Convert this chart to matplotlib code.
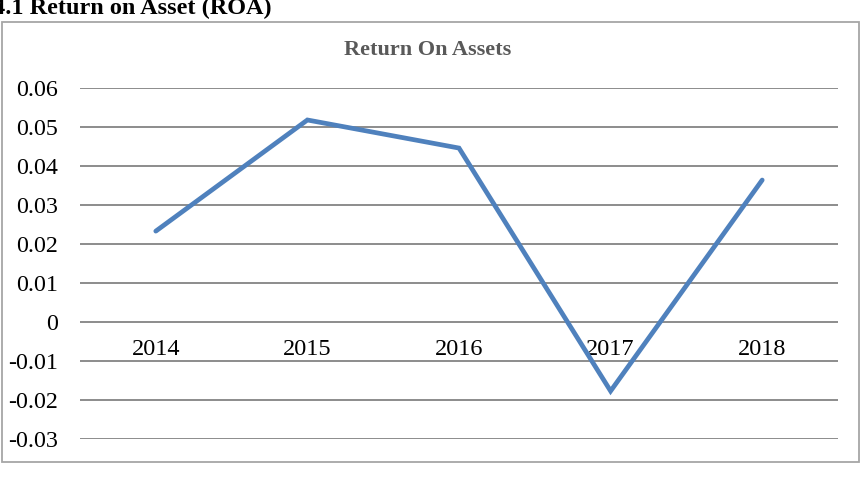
import matplotlib
matplotlib.use("Agg")
import matplotlib.pyplot as plt
from matplotlib.patches import Rectangle

years = ["2014", "2015", "2016", "2017", "2018"]
roa = [0.0233, 0.0518, 0.0446, -0.0177, 0.0364]
yticks = [-0.03, -0.02, -0.01, 0, 0.01, 0.02, 0.03, 0.04, 0.05, 0.06]
ytick_labels = ["-0.03", "-0.02", "-0.01", "0", "0.01", "0.02", "0.03", "0.04", "0.05", "0.06"]

W, H = 866, 488
plt.rcParams['font.family'] = ['Liberation Serif', 'DejaVu Serif']
fig = plt.figure(figsize=(W / 100, H / 100), dpi=100)

def fx(px):
    return px / W

def fy(py):
    return 1 - py / H

# outer chart frame
fig.patches.append(Rectangle((fx(2), fy(462)), fx(857), (462 - 22) / H,
                             transform=fig.transFigure, fill=False,
                             edgecolor="#a6a6a6", linewidth=1.3))

# document heading (partially cut at top)
fig.text(fx(272), fy(14), "4.1 Return on Asset (ROA)", fontsize=17.5,
         fontweight="bold", color="black", ha="right", va="baseline")

# chart title
fig.text(fx(428), fy(50), "Return On Assets", fontsize=16,
         fontweight="bold", color="#595959", ha="center", va="center")

ax = fig.add_axes([fx(80), fy(439), fx(838) - fx(80), (439 - 88) / H])
x = list(range(len(years)))
ax.plot(x, roa, color="#4F81BD", linewidth=3.4, solid_capstyle="round",
        solid_joinstyle="miter", zorder=3)

ax.set_xlim(-0.5, len(years) - 0.5)
ax.set_ylim(-0.03, 0.06)
ax.set_yticks(yticks)
ax.set_yticklabels(ytick_labels)
ax.grid(axis="y", color="#8c8c8c", linewidth=1.4)
ax.set_axisbelow(True)
for s in ax.spines.values():
    s.set_visible(False)
ax.spines['bottom'].set_position(('data', 0))
ax.set_xticks(x)
ax.set_xticklabels(years)
ax.tick_params(axis="x", length=0, pad=12, labelsize=17.5)
ax.tick_params(axis="y", length=0, pad=16, labelsize=17.3)
ax.patch.set_alpha(0)

fig.savefig("out.png", dpi=100)
